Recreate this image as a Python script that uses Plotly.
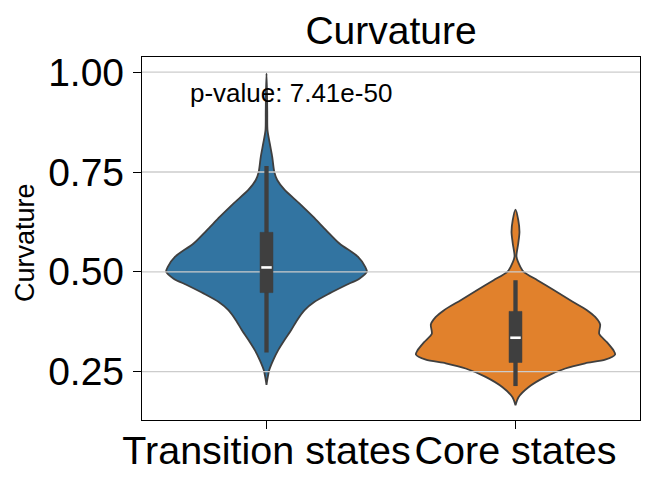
import plotly.graph_objects as go

# ---------------- data ----------------
categories = ["Transition states", "Core states"]
colors = ["#3274A1", "#E1812C"]

# violin density profiles (value, half-width in category units)
trans_y = [0.997, 0.95, 0.90, 0.855, 0.822, 0.788, 0.751, 0.730, 0.705, 0.671, 0.638,
           0.604, 0.571, 0.538, 0.512, 0.500, 0.483, 0.467, 0.446, 0.425, 0.404, 0.379,
           0.355, 0.330, 0.304, 0.279, 0.254, 0.229, 0.217]
trans_hw = [0.0, 0.002, 0.003, 0.004, 0.013, 0.023, 0.031, 0.043, 0.073, 0.133, 0.187,
            0.24, 0.293, 0.367, 0.397, 0.403, 0.373, 0.32, 0.253, 0.193, 0.153, 0.123,
            0.10, 0.073, 0.047, 0.027, 0.011, 0.003, 0.0]

core_y = [0.656, 0.630, 0.600, 0.571, 0.538, 0.512, 0.500, 0.479, 0.454, 0.429, 0.404,
          0.387, 0.368, 0.345, 0.324, 0.303, 0.293, 0.280, 0.271, 0.258, 0.237, 0.211,
          0.186, 0.166]
core_hw = [0.0, 0.011, 0.016, 0.011, 0.004, 0.02, 0.033, 0.088, 0.155, 0.22, 0.287,
           0.32, 0.34, 0.336, 0.367, 0.394, 0.40, 0.36, 0.28, 0.20, 0.12, 0.052,
           0.012, 0.0]

# box statistics: [Transition, Core]
whisker_low = [0.298, 0.214]
whisker_high = [0.765, 0.479]
q1 = [0.448, 0.273]
q3 = [0.599, 0.401]
median = [0.511, 0.335]

y_ticks = [0.25, 0.50, 0.75, 1.00]
y_ticktext = ["0.25", "0.50", "0.75", "1.00"]
p_value_text = "p-value: 7.41e-50"

profiles = [(trans_y, trans_hw), (core_y, core_hw)]

# ---------------- figure ----------------
FONT = "Liberation Sans, Arial, sans-serif"
EDGE = "#3f3f3f"

fig = go.Figure()

for i, (ys, hws) in enumerate(profiles):
    xs = [i + h for h in hws] + [i - h for h in reversed(hws)]
    yy = list(ys) + list(reversed(ys))
    fig.add_trace(go.Scatter(
        x=xs, y=yy, mode="lines", fill="toself",
        fillcolor=colors[i],
        line=dict(color=EDGE, width=1.8, shape="spline", smoothing=0.7),
        hoverinfo="skip", showlegend=False,
    ))

shapes = []
# horizontal grid drawn above the violin bodies
for t in y_ticks:
    shapes.append(dict(type="line", xref="paper", yref="y", x0=0, x1=1, y0=t, y1=t,
                       line=dict(color="#cccccc", width=1.3), layer="above"))

box_hw = 0.026
med_hw = 0.021
for i in range(len(categories)):
    shapes.append(dict(type="line", xref="x", yref="y", x0=i, x1=i,
                       y0=whisker_low[i], y1=whisker_high[i],
                       line=dict(color=EDGE, width=4.3), layer="above"))
    shapes.append(dict(type="rect", xref="x", yref="y", x0=i - box_hw, x1=i + box_hw,
                       y0=q1[i], y1=q3[i], fillcolor=EDGE,
                       line=dict(color=EDGE, width=0.5), layer="above"))
    shapes.append(dict(type="line", xref="x", yref="y", x0=i - med_hw, x1=i + med_hw,
                       y0=median[i], y1=median[i],
                       line=dict(color="white", width=2.6), layer="above"))

fig.update_layout(
    width=657, height=489,
    margin=dict(l=142, r=17, t=57, b=69, autoexpand=False),
    paper_bgcolor="white", plot_bgcolor="white",
    font=dict(family=FONT, color="black"),
    shapes=shapes,
    title=dict(text="Curvature", x=0.5, xref="paper", xanchor="center",
               y=1 - 30 / 489, yref="container", yanchor="middle",
               font=dict(size=39, family=FONT, color="black")),
    xaxis=dict(range=[-0.5, 1.5], tickmode="array", tickvals=list(range(len(categories))),
               ticktext=categories, showgrid=False, zeroline=False, automargin=False,
               showline=True, mirror=True, linecolor="black", linewidth=1.3,
               ticks="outside", ticklen=8, tickwidth=1.3, tickcolor="black",
               ticklabelstandoff=-13,
               tickfont=dict(size=39.5, family=FONT, color="black")),
    yaxis=dict(range=[0.129, 1.038], tickmode="array", tickvals=y_ticks,
               ticktext=y_ticktext, showgrid=False, zeroline=False, automargin=False,
               showline=True, mirror=True, linecolor="black", linewidth=1.3,
               ticks="outside", ticklen=8, tickwidth=1.3, tickcolor="black",
               ticklabelstandoff=1,
               tickfont=dict(size=39, family=FONT, color="black")),
    annotations=[
        dict(text="Curvature", xref="paper", yref="paper",
             x=(25 - 142) / 498, y=(420 - 243) / 363, textangle=-90,
             xanchor="center", yanchor="middle", showarrow=False,
             font=dict(size=27, family=FONT, color="black")),
        dict(text=p_value_text, xref="paper", yref="paper",
             x=(188 - 142) / 498, y=(420 - 93) / 363,
             xanchor="left", yanchor="middle", showarrow=False,
             font=dict(size=26, family=FONT, color="black")),
    ],
)

fig.write_html("out.html")
